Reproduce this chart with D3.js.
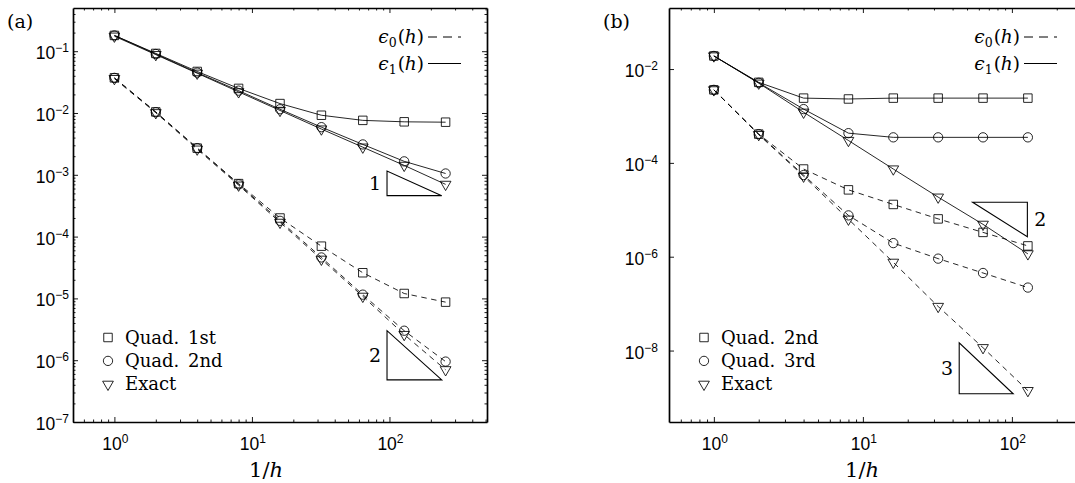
<!DOCTYPE html>
<html>
<head>
<meta charset="utf-8">
<script src="https://cdn.jsdelivr.net/npm/d3@7"></script>
<style>
  body { margin: 0; background: #fff; }
  svg { display: block; }
  .tick line { stroke: #000; stroke-width: 0.9; }
  .domain { stroke: #000; stroke-width: 1.7; }
  .ticklab { font-family: "Liberation Sans", Arimo, Arial, Helvetica, Roboto, sans-serif; font-size: 17.5px; fill: #000; }
  .tex { font-family: "DejaVu Serif", "Liberation Serif", serif; fill: #000; }
</style>
</head>
<body>
<script>
// convergence plots, two panels

// data -----------------------------------------------------------------
const X_A = [1, 2, 4, 8, 16, 32, 64, 128, 256];
// panel (a), eps_1 (solid)
const A_E1_QUAD1 = [0.18, 0.092, 0.047, 0.025, 0.0142, 0.0092, 0.0076, 0.0072, 0.0071];
const A_E1_QUAD2 = [0.18, 0.09, 0.045, 0.023, 0.0115, 0.0059, 0.0031, 0.00165, 0.00105];
const A_E1_EXACT = [0.175, 0.088, 0.044, 0.022, 0.011, 0.0055, 0.0028, 0.00142, 0.0007];
// panel (a), eps_0 (dashed)
const A_E0_QUAD1 = [0.037, 0.0104, 0.0027, 0.00072, 0.0002, 7.0e-5, 2.6e-5, 1.2e-5, 8.7e-6];
const A_E0_QUAD2 = [0.037, 0.0103, 0.0027, 0.0007, 0.00018, 4.6e-5, 1.15e-5, 3.0e-6, 9.5e-7];
const A_E0_EXACT = [0.036, 0.0101, 0.0026, 0.00068, 0.00017, 4.3e-5, 1.08e-5, 2.6e-6, 7.0e-7];

const X_B = [1, 2, 4, 8, 16, 32, 64, 128];
// panel (b), eps_1 (solid)
const B_E1_QUAD2 = [0.019, 0.0052, 0.0024, 0.0023, 0.0024, 0.0024, 0.0024, 0.0024];
const B_E1_QUAD3 = [0.019, 0.0051, 0.0014, 0.00043, 0.00035, 0.00035, 0.00035, 0.00035];
const B_E1_EXACT = [0.019, 0.005, 0.0012, 0.0003, 7.4e-5, 1.86e-5, 4.9e-6, 1.15e-6];
// panel (b), eps_0 (dashed)
const B_E0_QUAD2 = [0.0036, 0.00041, 7.4e-5, 2.66e-5, 1.3e-5, 6.4e-6, 3.3e-6, 1.7e-6];
const B_E0_QUAD3 = [0.0036, 0.00041, 5.5e-5, 7.6e-6, 1.95e-6, 9.1e-7, 4.5e-7, 2.2e-7];
const B_E0_EXACT = [0.0036, 0.0004, 5.2e-5, 6.3e-6, 7.6e-7, 8.7e-8, 1.15e-8, 1.4e-9];

// tick labels
const X_TICKS = [1, 10, 100];
const A_Y_TICKS = [1e-7, 1e-6, 1e-5, 1e-4, 1e-3, 1e-2, 1e-1];
const B_Y_TICKS = [1e-8, 1e-6, 1e-4, 1e-2];

// legends
const A_LEGEND = ["Quad. 1st", "Quad. 2nd", "Exact"];
const B_LEGEND = ["Quad. 2nd", "Quad. 3rd", "Exact"];
const MARKERS = ["square", "circle", "triangle"];

// slope triangles (data coords): x0, x1, y at the right angle corner, order
const A_SLOPES = [
  {x0: 96, x1: 240, y: 4.6e-4, order: 1, corner: "lowerleft"},
  {x0: 96, x1: 240, y: 4.8e-7, order: 2, corner: "lowerleft"}
];
const B_SLOPES = [
  {x0: 54.5, x1: 127, y: 1.45e-5, order: 2, corner: "upperright"},
  {x0: 44.3, x1: 102, y: 1.2e-9, order: 3, corner: "lowerleft"}
];

// layout ----------------------------------------------------------------
const FRAME_WIDTH = 1075;
const FRAME_HEIGHT = 483;
const TOP = 8;
const SIZE = 414;

const SVG = d3.select("body").append("svg")
              .attr("width", FRAME_WIDTH)
              .attr("height", FRAME_HEIGHT);

const PANELS = [
  {
    name: "(a)", left: 73, labGap: 4,
    xDomain: [0.5, 512], yDomain: [1e-7, 0.5],
    x: X_A, yTicks: A_Y_TICKS, yMinor: true,
    e1: [A_E1_QUAD1, A_E1_QUAD2, A_E1_EXACT],
    e0: [A_E0_QUAD1, A_E0_QUAD2, A_E0_EXACT],
    legend: A_LEGEND, slopes: A_SLOPES
  },
  {
    name: "(b)", left: 669, labGap: 11,
    xDomain: [0.5, 300], yDomain: [3e-10, 0.2],
    x: X_B, yTicks: B_Y_TICKS, yMinor: false,
    e1: [B_E1_QUAD2, B_E1_QUAD3, B_E1_EXACT],
    e0: [B_E0_QUAD2, B_E0_QUAD3, B_E0_EXACT],
    legend: B_LEGEND, slopes: B_SLOPES
  }
];

function minorTicks(domain) {
  let out = [];
  const d0 = Math.floor(Math.log10(domain[0]));
  const d1 = Math.ceil(Math.log10(domain[1]));
  for (let d = d0; d <= d1; d++) {
    for (let k = 2; k <= 9; k++) {
      const v = k * Math.pow(10, d);
      if (v > domain[0] && v < domain[1]) out.push(v);
    }
  }
  return out;
}

function markerPath(type) {
  if (type === "square") return d3.symbol(d3.symbolSquare, 72)();
  if (type === "circle") return d3.symbol(d3.symbolCircle, 68)();
  return d3.symbol(d3.symbolTriangle, 50)();
}

function drawMarker(g, type, px, py) {
  g.append("path")
    .attr("d", markerPath(type))
    .attr("transform", "translate(" + px + "," + py + ")" + (type === "triangle" ? " rotate(180)" : ""))
    .attr("fill", "none")
    .attr("stroke", "#000")
    .attr("stroke-width", 0.85);
}

// power of ten label with superscript
function powLabel(sel, v) {
  const e = Math.round(Math.log10(v));
  sel.append("tspan").text("10");
  sel.append("tspan")
     .attr("dy", -7)
     .attr("font-size", "12px")
     .text(e < 0 ? "\u2212" + (-e) : e);
}

function drawPanel(p) {
  const g = SVG.append("g")
               .attr("transform", "translate(" + p.left + "," + TOP + ")");

  const X_SCALE = d3.scaleLog().domain(p.xDomain).range([0, SIZE]);
  const Y_SCALE = d3.scaleLog().domain(p.yDomain).range([SIZE, 0]);

  // axes box with inward ticks
  const xMinor = minorTicks(p.xDomain);
  const yMajor = p.yMinor ? d3.range(-7, 0).map(e => Math.pow(10, e)) : p.yTicks;
  const yMinor = p.yMinor ? minorTicks(p.yDomain) : [];
  const xMajor = [1, 10, 100].filter(v => v < p.xDomain[1]);

  const sides = [
    {axis: d3.axisBottom, scale: X_SCALE, tr: "translate(0," + SIZE + ")", maj: xMajor, min: xMinor},
    {axis: d3.axisTop, scale: X_SCALE, tr: "translate(0,0)", maj: xMajor, min: xMinor},
    {axis: d3.axisLeft, scale: Y_SCALE, tr: "translate(0,0)", maj: yMajor, min: yMinor},
    {axis: d3.axisRight, scale: Y_SCALE, tr: "translate(" + SIZE + ",0)", maj: yMajor, min: yMinor}
  ];
  sides.forEach(s => {
    g.append("g").attr("transform", s.tr)
      .call(s.axis(s.scale).tickValues(s.min).tickSize(-2.5).tickSizeOuter(0).tickFormat(""))
      .call(a => a.select(".domain").remove());
    g.append("g").attr("transform", s.tr)
      .call(s.axis(s.scale).tickValues(s.maj).tickSize(-5).tickSizeOuter(0).tickFormat(""));
  });

  // tick labels
  X_TICKS.filter(v => v < p.xDomain[1]).forEach(v => {
    const t = g.append("text").attr("class", "ticklab")
               .attr("x", X_SCALE(v) + 1)
               .attr("y", SIZE + 28)
               .attr("text-anchor", "middle");
    powLabel(t, v);
  });
  p.yTicks.forEach(v => {
    const t = g.append("text").attr("class", "ticklab")
               .attr("x", -p.labGap)
               .attr("y", Y_SCALE(v) + 8)
               .attr("text-anchor", "end");
    powLabel(t, v);
  });

  // series
  const line = d3.line()
                 .x(d => X_SCALE(d[0]))
                 .y(d => Y_SCALE(d[1]));

  [[p.e1, null], [p.e0, "5.5,4.5"]].forEach(([group, dash]) => {
    group.forEach((vals, i) => {
      const pts = p.x.map((xv, j) => [xv, vals[j]]);
      g.append("path")
        .datum(pts)
        .attr("d", line)
        .attr("fill", "none")
        .attr("stroke", "#000")
        .attr("stroke-width", 0.85)
        .attr("stroke-dasharray", dash);
      pts.forEach(d => drawMarker(g, MARKERS[i], X_SCALE(d[0]), Y_SCALE(d[1])));
    });
  });

  // slope triangles
  p.slopes.forEach(s => {
    const px0 = X_SCALE(s.x0), px1 = X_SCALE(s.x1);
    const rise = Math.pow(s.x1 / s.x0, s.order);
    let pts, lx, ly, anchor;
    if (s.corner === "lowerleft") {
      const py = Y_SCALE(s.y), pyTop = Y_SCALE(s.y * rise);
      pts = [[px0, pyTop], [px0, py], [px1, py]];
      lx = px0 - 6; ly = (py + pyTop) / 2; anchor = "end";
    } else {
      const py = Y_SCALE(s.y), pyBot = Y_SCALE(s.y / rise);
      pts = [[px0, py], [px1, py], [px1, pyBot]];
      lx = px1 + 7; ly = (py + pyBot) / 2; anchor = "start";
    }
    g.append("path")
      .attr("d", "M" + pts.map(q => q.join(",")).join("L") + "Z")
      .attr("fill", "none")
      .attr("stroke", "#000")
      .attr("stroke-width", 1.1);
    g.append("text").attr("class", "tex")
      .attr("x", lx).attr("y", ly + 7)
      .attr("text-anchor", anchor)
      .attr("font-size", "19px")
      .text(s.order);
  });

  // epsilon legend (top right)
  ["0", "1"].forEach((sub, i) => {
    const yy = 29 + i * 26.5;
    const t = g.append("text").attr("class", "tex")
               .attr("x", 351).attr("y", yy + 6)
               .attr("text-anchor", "end")
               .attr("font-size", "18.5px");
    t.append("tspan").attr("font-style", "italic").text("\u03F5");
    t.append("tspan").attr("font-size", "12.5px").attr("dy", 4).text(sub);
    t.append("tspan").attr("dy", -4).attr("dx", 1).text("(");
    t.append("tspan").attr("font-style", "italic").text("h");
    t.append("tspan").text(")");
    g.append("line")
      .attr("x1", 355).attr("x2", 388)
      .attr("y1", yy).attr("y2", yy)
      .attr("stroke", "#000")
      .attr("stroke-width", 1)
      .attr("stroke-dasharray", i === 0 ? "9,6" : null);
  });

  // marker legend (bottom left)
  p.legend.forEach((lab, i) => {
    const yy = 329.5 + i * 23.4;
    drawMarker(g, MARKERS[i], 35, yy);
    g.append("text").attr("class", "tex")
      .attr("x", 52).attr("y", yy + 6)
      .attr("font-size", "18px")
      .attr("word-spacing", "3px")
      .text(lab);
  });

  // panel letter and x label
  g.append("text").attr("class", "tex")
    .attr("x", -66).attr("y", 20)
    .attr("font-size", "19px")
    .text(p.name);

  const xl = g.append("text").attr("class", "tex")
               .attr("x", 193).attr("y", SIZE + 55)
               .attr("text-anchor", "middle")
               .attr("font-size", "21px");
  xl.append("tspan").text("1/");
  xl.append("tspan").attr("font-style", "italic").text("h");
}

PANELS.forEach(drawPanel);
</script>
</body>
</html>
